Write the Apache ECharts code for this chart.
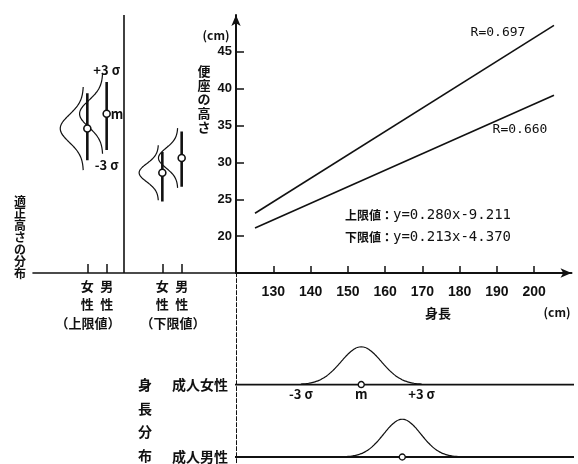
<!DOCTYPE html>
<html><head><meta charset="utf-8">
<script src="https://cdn.jsdelivr.net/npm/echarts@6/dist/echarts.min.js"></script>
<style>html,body{margin:0;padding:0;background:#fff}#c{width:578px;height:464px}</style>
</head><body><div id="c"></div>
<script>
// ---------------- data ----------------
const heightTicks = [130, 140, 150, 160, 170, 180, 190, 200];
const seatTicks = [20, 25, 30, 35, 40, 45];
// regression lines: stature (cm) -> seat height (cm)
const upperLine = [[125.1, 23.1], [205.3, 48.6]];   // 上限値, R=0.697
const lowerLine = [[125.1, 21.1], [205.3, 39.1]];   // 下限値, R=0.660
const upperEq = '上限値：';
const upperEqText = 'y=0.280x-9.211';
const lowerEq = '下限値：';
const lowerEqText = 'y=0.213x-4.370';
const upperR = 'R=0.697';
const lowerR = 'R=0.660';
// suitable seat height distributions [women, men]
const fitGroups = ['（上限値）', '（下限値）'];
const fitSexLabels = ['女\n性', '男\n性'];
const fitMean = [[34.6, 36.6], [28.6, 30.6]];
const fitSd = [[1.88, 1.81], [1.24, 1.35]];
const fitLow = [[30.3, 31.7], [24.7, 26.7]];
const fitHigh = [[39.4, 40.9], [31.4, 34.2]];
// stature distributions
const statureGroups = ['成人女性', '成人男性'];
const statureMean = [153.6, 164.6];
const statureSd = [5.4, 5.0];

// ---------------- layout / style ----------------
const K = '#111';
const cjk = '"Noto Sans CJK JP", sans-serif';
const num = '"Liberation Sans", Arial, sans-serif';
const mono = '"DejaVu Sans Mono", monospace';
const slotPos = [[2.81, 3.81], [6.69, 7.69]];   // left panel x positions
const curveOffset = -0.2;
const curveAmp = [1.2, 1.0];
const sepX = 4.71;
const stBase = [1.92, 0];                       // bottom panel baselines

function normalPts(mean, sd, n, fn) {
  const pts = [];
  for (let i = 0; i <= n; i++) {
    const z = -3 + 6 * i / n;
    pts.push(fn(mean + z * sd, Math.exp(-z * z / 2)));
  }
  return pts;
}

const series = [];
const lineBase = { type: 'line', symbol: 'none', silent: true, animation: false };
const circleStyle = { color: '#fff', borderColor: K, borderWidth: 1.6, opacity: 1 };

// main regression lines
series.push(Object.assign({}, lineBase, { xAxisIndex: 0, yAxisIndex: 0, data: upperLine, lineStyle: { color: K, width: 1.6 } }));
series.push(Object.assign({}, lineBase, { xAxisIndex: 0, yAxisIndex: 0, data: lowerLine, lineStyle: { color: K, width: 1.6 } }));

// left panel
for (let g = 0; g < 2; g++) {
  for (let s = 0; s < 2; s++) {
    const x = slotPos[g][s];
    series.push(Object.assign({}, lineBase, { xAxisIndex: 1, yAxisIndex: 1,
      data: [[x, fitLow[g][s]], [x, fitHigh[g][s]]], lineStyle: { color: K, width: 2.6 } }));
    series.push(Object.assign({}, lineBase, { xAxisIndex: 1, yAxisIndex: 1, smooth: true,
      data: normalPts(fitMean[g][s], fitSd[g][s], 60, (v, p) => [x + curveOffset - curveAmp[g] * p, v]),
      lineStyle: { color: K, width: 1.2 } }));
    series.push({ type: 'scatter', xAxisIndex: 1, yAxisIndex: 1, silent: true, animation: false,
      symbol: 'circle', symbolSize: 7, itemStyle: circleStyle,
      data: [[x, fitMean[g][s]]], z: 5 });
  }
}
// sigma labels on the upper-limit men's distribution
const sx = slotPos[0][1];
series.push({ type: 'scatter', xAxisIndex: 1, yAxisIndex: 1, silent: true, animation: false, symbolSize: 0,
  itemStyle: { opacity: 1 },
  data: [
    { value: [sx, fitMean[0][1] + 3 * fitSd[0][1]], label: { show: true, formatter: '+3 σ', position: 'inside', offset: [0, -4] } },
    { value: [sx, fitMean[0][1]], label: { show: true, formatter: 'm', position: 'right', distance: 4 } },
    { value: [sx, fitMean[0][1] - 3 * fitSd[0][1]], label: { show: true, formatter: '-3 σ', position: 'inside', offset: [0, 11] } }
  ],
  label: { color: K, opacity: 1, fontFamily: cjk, fontWeight: 'bold', fontSize: 13, textBorderWidth: 0 },
  markLine: { silent: true, symbol: 'none', label: { show: false }, lineStyle: { color: K, width: 1.6, type: 'solid', opacity: 1 },
    data: [{ xAxis: sepX }], animation: false }
});

// bottom panel: stature distributions
for (let i = 0; i < 2; i++) {
  const b = stBase[i];
  series.push(Object.assign({}, lineBase, { xAxisIndex: 2, yAxisIndex: 2, clip: false,
    data: [[119.3, b], [211.8, b]], lineStyle: { color: K, width: 1.8 } }));
  series.push(Object.assign({}, lineBase, { xAxisIndex: 2, yAxisIndex: 2, smooth: true,
    data: normalPts(statureMean[i], statureSd[i], 60, (v, p) => [v, b + p]),
    lineStyle: { color: K, width: 1.2 } }));
  series.push({ type: 'scatter', xAxisIndex: 2, yAxisIndex: 2, silent: true, animation: false,
    symbol: 'circle', symbolSize: 6, itemStyle: { color: '#fff', borderColor: K, borderWidth: 1.4, opacity: 1 },
    data: [[statureMean[i], b]], z: 5 });
}
series.push({ type: 'scatter', xAxisIndex: 2, yAxisIndex: 2, silent: true, animation: false, symbolSize: 0,
  itemStyle: { opacity: 1 },
  label: { show: true, position: 'bottom', distance: 3, color: K, opacity: 1, fontFamily: cjk, fontWeight: 'bold', fontSize: 13, textBorderWidth: 0 },
  data: [
    { value: [statureMean[0] - 3 * statureSd[0], stBase[0]], label: { formatter: '-3 σ' } },
    { value: [statureMean[0], stBase[0]], label: { formatter: 'm' } },
    { value: [statureMean[0] + 3 * statureSd[0], stBase[0]], label: { formatter: '+3 σ' } }
  ] });

const txt = (x, y, text, opt) => ({ type: 'text', x: x, y: y, silent: true,
  style: Object.assign({ text: text, fill: K, font: 'bold 13px ' + cjk, textAlign: 'center', textVerticalAlign: 'middle' }, opt || {}) });

const option = {
  backgroundColor: '#fff',
  animation: false,
  grid: [
    { left: 236, top: 15, width: 335.5, height: 258 },
    { left: 33, top: 15, width: 203, height: 258 },
    { left: 236, top: 273, width: 335.5, height: 191 }
  ],
  xAxis: [
    { gridIndex: 0, type: 'value', min: 120, max: 210, interval: 10,
      axisLine: { onZero: false, lineStyle: { color: K, width: 2 }, symbol: ['none', 'arrow'], symbolSize: [7, 11] },
      axisTick: { inside: true, length: 7, customValues: heightTicks, lineStyle: { color: K, width: 1.5 } },
      axisLabel: { customValues: heightTicks, margin: 12, color: K, fontFamily: num, fontWeight: 'bold', fontSize: 14 },
      splitLine: { show: false } },
    { gridIndex: 1, type: 'value', min: 0, max: 10.5,
      axisLine: { onZero: false, lineStyle: { color: K, width: 1.6 } },
      axisTick: { inside: true, length: 9, customValues: slotPos.flat(), lineStyle: { color: K, width: 1.5 } },
      axisLabel: { customValues: slotPos.flat(), margin: 4, color: K, fontFamily: cjk, fontWeight: 'bold', fontSize: 13, lineHeight: 18,
        formatter: v => { for (let g = 0; g < 2; g++) for (let s = 0; s < 2; s++) if (Math.abs(v - slotPos[g][s]) < 1e-6) return fitSexLabels[s]; return ''; } },
      splitLine: { show: false } },
    { gridIndex: 2, type: 'value', min: 120, max: 210, show: false }
  ],
  yAxis: [
    { gridIndex: 0, type: 'value', min: 15, max: 50, interval: 5,
      axisLine: { show: true, onZero: false, lineStyle: { color: K, width: 2 }, symbol: ['none', 'arrow'], symbolSize: [7, 11] },
      axisTick: { show: true, inside: true, length: 8, customValues: seatTicks, lineStyle: { color: K, width: 1.5 } },
      axisLabel: { customValues: seatTicks, margin: 4, color: K, fontFamily: num, fontWeight: 'bold', fontSize: 13 },
      splitLine: { show: false } },
    { gridIndex: 1, type: 'value', min: 15, max: 50, show: false },
    { gridIndex: 2, type: 'value', min: -0.15, max: 4.875,
      axisLine: { show: true, onZero: false, lineStyle: { color: K, width: 1, type: [4, 2] } },
      axisTick: { show: false },
      axisLabel: { customValues: stBase, margin: 8, color: K, fontFamily: cjk, fontWeight: 'bold', fontSize: 14,
        formatter: v => Math.abs(v - stBase[0]) < 1e-6 ? statureGroups[0] : statureGroups[1] },
      splitLine: { show: false } }
  ],
  series: series,
  graphic: [
    txt(216, 35, '(cm)', { font: 'bold 12px ' + cjk }),
    txt(204, 64, '便\n座\nの\n高\nさ', { textVerticalAlign: 'top', lineHeight: 14 }),
    txt(498, 33, upperR, { font: '13px ' + mono }),
    txt(520, 130, lowerR, { font: '13px ' + mono }),
    { type: 'text', x: 345, y: 215, silent: true, style: { text: '{a|' + upperEq + '}{b|' + upperEqText + '}', textVerticalAlign: 'middle',
      rich: { a: { font: 'bold 12px ' + cjk, fill: K }, b: { font: '14px ' + mono, fill: K } } } },
    { type: 'text', x: 345, y: 237, silent: true, style: { text: '{a|' + lowerEq + '}{b|' + lowerEqText + '}', textVerticalAlign: 'middle',
      rich: { a: { font: 'bold 12px ' + cjk, fill: K }, b: { font: '14px ' + mono, fill: K } } } },
    txt(438, 313, '身長'),
    txt(557, 312, '(cm)', { font: 'bold 12px ' + cjk }),
    txt(20, 195, '適\n正\n高\nさ\nの\n分\n布', { textVerticalAlign: 'top', lineHeight: 12, font: 'bold 12px ' + cjk }),
    txt(88, 323, fitGroups[0]),
    txt(173, 323, fitGroups[1]),
    txt(145, 373, '身\n長\n分\n布', { textVerticalAlign: 'top', lineHeight: 23.5, font: 'bold 14px ' + cjk })
  ]
};
const chart = echarts.init(document.getElementById('c'));
chart.setOption(option);
</script>
</body></html>
